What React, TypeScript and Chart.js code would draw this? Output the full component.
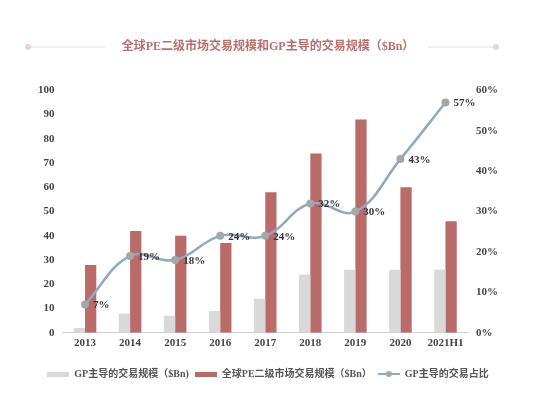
import React, { useEffect, useRef } from "react";
import { Chart, registerables } from "chart.js";

Chart.register(...registerables);

const categories = ["2013", "2014", "2015", "2016", "2017", "2018", "2019", "2020", "2021H1"];
const gpVolume = [2, 8, 7, 9, 14, 24, 26, 26, 26];
const globalVolume = [28, 42, 40, 37, 58, 74, 88, 60, 46];
const gpShare = [7, 19, 18, 24, 24, 32, 30, 43, 57];
const leftTicks = [0, 10, 20, 30, 40, 50, 60, 70, 80, 90, 100];
const rightTicks = [0, 10, 20, 30, 40, 50, 60];

const titleText = "全球PE二级市场交易规模和GP主导的交易规模（$Bn）";
const labelGp = "GP主导的交易规模（$Bn)";
const labelGlobal = "全球PE二级市场交易规模（$Bn）";
const labelShare = "GP主导的交易占比";

const FONT = "'Liberation Serif', 'Noto Sans CJK SC', serif";
const GRAY = "#d9d9d9";
const RED = "#b86b68";
const LINE = "#8fa8c6";
const POINT = "#a6a6a6";
const TITLE_COLOR = "#b8706d";

function makeBox(color: string) {
  const c = document.createElement("canvas");
  c.width = 22;
  c.height = 5;
  const ctx = c.getContext("2d")!;
  ctx.fillStyle = color;
  ctx.fillRect(0, 0, 22, 5);
  return c;
}

function makeLineIcon() {
  const c = document.createElement("canvas");
  c.width = 22;
  c.height = 8;
  const ctx = c.getContext("2d")!;
  ctx.strokeStyle = LINE;
  ctx.lineWidth = 2;
  ctx.beginPath();
  ctx.moveTo(0, 4);
  ctx.lineTo(22, 4);
  ctx.stroke();
  ctx.fillStyle = POINT;
  ctx.beginPath();
  ctx.arc(11, 4, 3, 0, Math.PI * 2);
  ctx.fill();
  return c;
}

const TITLE_PAD_TOP = 40;

const decorPlugin = {
  id: "decor",
  afterDraw(chart: any) {
    const tb = chart.titleBlock;
    if (!tb) return;
    const ctx = chart.ctx;
    const y = tb.top + TITLE_PAD_TOP + 7;
    ctx.save();
    ctx.strokeStyle = "#eadede";
    ctx.lineWidth = 1;
    ctx.beginPath();
    ctx.moveTo(28, y);
    ctx.lineTo(105, y);
    ctx.moveTo(428, y);
    ctx.lineTo(496, y);
    ctx.stroke();
    ctx.fillStyle = "#e6d6d6";
    ctx.beginPath();
    ctx.arc(28, y, 3, 0, Math.PI * 2);
    ctx.arc(496, y, 3, 0, Math.PI * 2);
    ctx.fill();
    ctx.restore();
  },
};

const labelPlugin = {
  id: "lineLabels",
  afterDatasetsDraw(chart: any) {
    const meta = chart.getDatasetMeta(2);
    const ctx = chart.ctx;
    ctx.save();
    ctx.font = `bold 11px ${FONT}`;
    ctx.fillStyle = "#333";
    ctx.textBaseline = "middle";
    ctx.textAlign = "left";
    meta.data.forEach((pt: any, i: number) => {
      ctx.fillText(`${gpShare[i]}%`, pt.x + 8, pt.y + 1);
    });
    ctx.restore();
  },
};

export default function App() {
  const ref = useRef<HTMLCanvasElement>(null);
  useEffect(() => {
    document.body.style.margin = "0";
    const icons = [makeBox(GRAY), makeBox(RED), makeLineIcon()];
    const chart = new Chart(ref.current!, {
      type: "bar",
      data: {
        labels: categories,
        datasets: [
          {
            label: labelGp,
            data: gpVolume,
            backgroundColor: GRAY,
            yAxisID: "y",
            order: 1,
            categoryPercentage: 0.5,
            barPercentage: 1.0,
          },
          {
            label: labelGlobal,
            data: globalVolume,
            backgroundColor: RED,
            yAxisID: "y",
            order: 1,
            categoryPercentage: 0.5,
            barPercentage: 1.0,
          },
          {
            type: "line",
            label: labelShare,
            data: gpShare,
            borderColor: LINE,
            borderWidth: 2.5,
            backgroundColor: POINT,
            pointBackgroundColor: POINT,
            pointBorderWidth: 0,
            pointRadius: 4,
            tension: 0.4,
            yAxisID: "y1",
            order: 0,
          } as any,
        ],
      },
      options: {
        animation: false,
        responsive: true,
        maintainAspectRatio: false,
        layout: { padding: { left: 30, right: 31, top: 0, bottom: 4 } },
        plugins: {
          tooltip: { enabled: false },
          title: {
            display: true,
            text: titleText,
            color: TITLE_COLOR,
            font: { family: FONT, size: 12, weight: "bold" },
            padding: { top: TITLE_PAD_TOP, bottom: 36 },
          },
          legend: {
            position: "bottom",
            labels: {
              usePointStyle: true,
              pointStyleWidth: 22,
              boxHeight: 8,
              padding: 6,
              color: "#555",
              font: { family: FONT, size: 10, weight: "bold" },
              sort: (a: any, b: any) => a.datasetIndex - b.datasetIndex,
              generateLabels: (chart: any) =>
                chart.data.datasets.map((ds: any, i: number) => ({
                  text: ds.label,
                  datasetIndex: i,
                  pointStyle: icons[i],
                  fillStyle: "transparent",
                  strokeStyle: "transparent",
                  lineWidth: 0,
                  fontColor: "#555",
                  hidden: false,
                })),
            },
          },
        },
        scales: {
          x: {
            grid: { display: false, drawTicks: false },
            border: { display: true, color: "#d0d0d0" },
            afterFit: (s: any) => {
              s.height += 9;
            },
            ticks: {
              color: "#444",
              font: { family: FONT, size: 11, weight: "bold" },
              padding: 4,
            },
          },
          y: {
            position: "left",
            min: 0,
            max: 100,
            afterBuildTicks: (axis: any) => {
              axis.ticks = leftTicks.map((v) => ({ value: v }));
            },
            grid: { display: false, drawTicks: false },
            border: { display: false },
            ticks: {
              color: "#444",
              font: { family: FONT, size: 11, weight: "bold" },
              padding: 8,
            },
          },
          y1: {
            position: "right",
            min: 0,
            max: 60,
            afterBuildTicks: (axis: any) => {
              axis.ticks = rightTicks.map((v) => ({ value: v }));
            },
            grid: { display: false, drawTicks: false },
            border: { display: false },
            ticks: {
              color: "#444",
              font: { family: FONT, size: 11, weight: "bold" },
              padding: 8,
              callback: (v: any) => `${v}%`,
            },
          },
        },
      },
      plugins: [decorPlugin, labelPlugin],
    });
    return () => chart.destroy();
  }, []);
  return (
    <div style={{ width: 537, height: 393, position: "relative", background: "#fff" }}>
      <canvas ref={ref} />
    </div>
  );
}
